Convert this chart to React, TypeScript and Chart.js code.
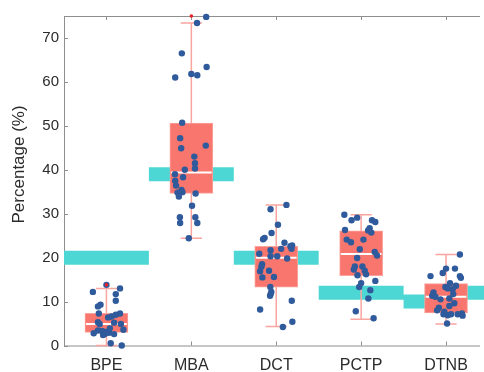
import React, { useEffect, useRef } from 'react';
import { Chart, registerables } from 'chart.js';

Chart.register(...registerables);

const categories = ['BPE', 'MBA', 'DCT', 'PCTP', 'DTNB'];
const yTickValues = [0, 10, 20, 30, 40, 50, 60, 70];
const yAxisTitle = 'Percentage (%)';

// box statistics
const whiskerLow = [0, 24.4, 4.3, 6.0, 4.9];
const q1 = [3.0, 34.6, 13.3, 15.9, 7.4];
const median = [4.9, 39.4, 20.0, 20.8, 11.1];
const q3 = [7.3, 50.6, 22.6, 26.1, 14.1];
const whiskerHigh = [13.0, 73.4, 32.0, 29.75, 20.7];

// outlier markers
const outlierCategory = [0, 1];
const outlierValue = [13.8, 75];

// reference (cyan) bands
const refStart = [-0.5, 0.5, 1.5, 2.5, 3.5, 4.0];
const refEnd = [0.5, 1.5, 2.5, 3.5, 4.0, 4.5];
const refValue = [20, 39, 20, 12, 10, 12];

// individual observations and their horizontal jitter
const bpeValues = [12.2, 13.0, 13.8, 11.7, 10.2, 9.3, 8.9, 7.3, 7.3, 7.0, 6.6, 6.4, 5.3, 4.9, 5.2, 4.9, 3.6, 3.4, 3.3, 3.1, 2.9, 2.8, 2.4, 2.6, 3.9, 0.5, 0.0, 2.6];
const bpeJitter = [-0.16, 0.16, 0.0, 0.11, 0.11, -0.07, -0.1, -0.09, 0.16, 0.11, 0.06, 0.02, -0.1, -0.08, 0.09, 0.17, 0.2, -0.1, -0.05, -0.01, 0.03, -0.15, -0.04, 0.09, 0.04, 0.05, 0.18, -0.02];

const mbaValues = [74.8, 73.4, 66.5, 63.4, 61.8, 61.5, 61.0, 50.7, 47.2, 44.9, 45.5, 43.0, 41.5, 40.3, 40.0, 39.0, 38.3, 37.5, 36.4, 35.4, 34.8, 34.9, 34.6, 33.9, 31.8, 29.2, 29.2, 27.9, 27.9, 24.4];
const mbaJitter = [0.175, 0.067, -0.112, 0.18, 0.0, 0.07, -0.19, -0.108, -0.132, -0.12, 0.17, 0.035, 0.043, 0.043, -0.077, -0.193, -0.097, -0.19, -0.18, -0.116, -0.163, -0.105, 0.05, -0.147, 0.008, -0.135, 0.047, -0.132, 0.07, -0.03];

const dctValues = [32.0, 31.0, 27.5, 25.6, 24.5, 24.2, 23.4, 22.6, 22.8, 22.0, 22.0, 21.7, 20.9, 20.3, 20.3, 19.8, 18.5, 17.9, 16.9, 17.0, 15.5, 15.6, 13.3, 12.2, 11.7, 11.3, 10.2, 8.2, 4.2, 5.4];
const dctJitter = [0.12, -0.067, 0.02, -0.055, -0.137, -0.155, 0.097, 0.167, 0.187, 0.058, 0.18, -0.067, -0.2, -0.067, 0.012, 0.128, -0.167, -0.175, -0.19, -0.085, -0.163, -0.027, -0.07, -0.058, -0.066, -0.073, 0.183, -0.19, 0.078, 0.19];

const pctpValues = [29.75, 28.5, 29.1, 28.5, 28.1, 26.7, 26.2, 25.7, 26.3, 24.1, 23.5, 24.1, 21.9, 21.3, 20.5, 19.9, 18.0, 18.0, 17.3, 17.0, 16.2, 16.0, 14.2, 14.7, 13.3, 12.6, 10.7, 7.8, 6.2];
const pctpJitter = [-0.198, -0.113, -0.047, 0.128, 0.167, 0.1, 0.082, 0.12, -0.19, -0.17, -0.12, 0.027, -0.016, 0.16, 0.187, -0.047, 0.015, -0.074, -0.086, 0.042, 0.058, -0.043, 0.0, 0.167, -0.023, 0.108, 0.085, -0.063, 0.147];

const dtnbValues = [20.7, 17.5, 17.5, 16.5, 15.8, 15.8, 15.4, 14.2, 13.6, 13.3, 13.0, 12.8, 12.1, 11.7, 11.3, 11.1, 10.7, 10.5, 9.6, 9.0, 8.6, 8.0, 7.7, 7.1, 6.9, 7.1, 7.1, 7.3, 6.8, 5.0];
const dtnbJitter = [0.163, 0.0, 0.105, -0.039, -0.183, 0.163, 0.175, 0.047, 0.117, -0.008, 0.02, 0.078, -0.148, 0.085, -0.163, -0.125, 0.039, -0.066, 0.097, 0.039, -0.085, -0.105, -0.02, -0.03, 0.02, 0.058, 0.136, 0.187, 0.195, 0.012];

const groupValues = [bpeValues, mbaValues, dctValues, pctpValues, dtnbValues];
const groupJitter = [bpeJitter, mbaJitter, dctJitter, pctpJitter, dtnbJitter];

const FONT = "'Liberation Sans', Arial, Helvetica, sans-serif";
const TEXT_COLOR = '#2b2b2b';

const axesPlugin = {
  id: 'axesFrame',
  beforeDatasetsDraw(chart: any) {
    const { ctx, chartArea, scales } = chart;
    const { left, right, top, bottom } = chartArea;
    const x = scales.x;
    const y = scales.y;
    ctx.save();
    ctx.strokeStyle = '#8e8e8e';
    ctx.lineWidth = 1;
    ctx.beginPath();
    ctx.moveTo(left + 0.5, top);
    ctx.lineTo(left + 0.5, bottom + 1);
    ctx.moveTo(left, bottom + 0.5);
    ctx.lineTo(right, bottom + 0.5);
    ctx.moveTo(left, top + 0.5);
    ctx.lineTo(right, top + 0.5);
    yTickValues.forEach((v) => {
      const py = Math.round(y.getPixelForValue(v)) + 0.5;
      ctx.moveTo(left, py);
      ctx.lineTo(left + 4, py);
    });
    categories.forEach((_, i) => {
      const px = Math.round(x.getPixelForValue(i)) + 0.5;
      ctx.moveTo(px, bottom);
      ctx.lineTo(px, bottom - 4);
      ctx.moveTo(px, top);
      ctx.lineTo(px, top + 4);
    });
    ctx.stroke();

    // y axis title (centred on the figure, as in the original)
    ctx.translate(19.5, chart.height * 0.442);
    ctx.rotate(-Math.PI / 2);
    ctx.fillStyle = TEXT_COLOR;
    ctx.font = `17px ${FONT}`;
    ctx.textAlign = 'center';
    ctx.textBaseline = 'middle';
    ctx.fillText(yAxisTitle, 0, 0);
    ctx.restore();
  },
};

export default function App() {
  const canvasRef = useRef<HTMLCanvasElement | null>(null);

  useEffect(() => {
    const canvas = canvasRef.current;
    if (!canvas) return;

    const refData: any[] = [];
    refValue.forEach((v, i) => {
      refData.push({ x: refStart[i], y: v }, { x: refEnd[i], y: v }, { x: refEnd[i], y: null });
    });

    const whiskerData: any[] = [];
    categories.forEach((_, i) => {
      whiskerData.push(
        { x: i - 0.125, y: whiskerHigh[i] }, { x: i + 0.125, y: whiskerHigh[i] }, { x: i, y: null },
        { x: i, y: whiskerHigh[i] }, { x: i, y: whiskerLow[i] }, { x: i, y: null },
        { x: i - 0.125, y: whiskerLow[i] }, { x: i + 0.125, y: whiskerLow[i] }, { x: i, y: null },
      );
    });

    const boxData = categories.map((_, i) => ({ x: i, y: [q1[i], q3[i]] }));

    const medianData: any[] = [];
    categories.forEach((_, i) => {
      medianData.push({ x: i - 0.24, y: median[i] }, { x: i + 0.24, y: median[i] }, { x: i, y: null });
    });

    const pointData: any[] = [];
    groupValues.forEach((vals, i) => {
      vals.forEach((v, j) => pointData.push({ x: i + groupJitter[i][j], y: v }));
    });

    const outlierData = outlierCategory.map((c, k) => ({ x: c, y: outlierValue[k] }));

    const chart = new Chart(canvas, {
      type: 'scatter',
      data: {
        datasets: [
          {
            type: 'line',
            data: refData,
            borderColor: '#4dd7d4',
            borderWidth: 14,
            borderCapStyle: 'butt',
            pointRadius: 0,
            spanGaps: false,
            clip: false,
            order: 6,
          } as any,
          {
            type: 'line',
            data: whiskerData,
            borderColor: '#f9a5a0',
            borderWidth: 1.5,
            pointRadius: 0,
            spanGaps: false,
            clip: false,
            order: 5,
          } as any,
          {
            type: 'bar',
            data: boxData,
            backgroundColor: '#f8766d',
            borderColor: '#fba39d',
            borderWidth: 1,
            borderSkipped: false,
            barThickness: 43,
            clip: false,
            order: 4,
          } as any,
          {
            type: 'line',
            data: medianData,
            borderColor: '#ffffff',
            borderWidth: 2,
            pointRadius: 0,
            spanGaps: false,
            clip: false,
            order: 3,
          } as any,
          {
            type: 'scatter',
            data: pointData,
            backgroundColor: '#2f5a9b',
            borderWidth: 0,
            pointRadius: 3.2,
            clip: false,
            order: 2,
          } as any,
          {
            type: 'scatter',
            data: outlierData,
            backgroundColor: '#e8202a',
            borderWidth: 0,
            pointRadius: 1.8,
            clip: false,
            order: 1,
          } as any,
        ],
      },
      options: {
        animation: false,
        responsive: false,
        devicePixelRatio: 1,
        layout: { padding: { top: 16, right: 0, left: 0, bottom: 0 } },
        plugins: {
          legend: { display: false },
          tooltip: { enabled: false },
        },
        scales: {
          x: {
            type: 'linear',
            min: -0.5,
            max: 4.4,
            offset: false,
            grid: { display: false, drawTicks: false },
            border: { display: false },
            afterBuildTicks: (scale: any) => {
              scale.ticks = categories.map((_, i) => ({ value: i }));
            },
            afterFit: (scale: any) => {
              scale.height = 26.5;
              scale.paddingLeft = 0;
              scale.paddingRight = 0;
            },
            ticks: {
              padding: 10,
              color: TEXT_COLOR,
              font: { family: FONT, size: 16 },
              callback: (v: any) => categories[Math.round(Number(v))] ?? '',
              maxRotation: 0,
              autoSkip: false,
            },
          },
          y: {
            type: 'linear',
            min: 0,
            max: 75,
            grid: { display: false, drawTicks: false },
            border: { display: false },
            afterBuildTicks: (scale: any) => {
              scale.ticks = yTickValues.map((v) => ({ value: v }));
            },
            afterFit: (scale: any) => {
              scale.width = 64;
            },
            ticks: {
              padding: 5,
              color: TEXT_COLOR,
              font: { family: FONT, size: 15 },
            },
          },
        },
      } as any,
      plugins: [axesPlugin],
    });

    return () => chart.destroy();
  }, []);

  return (
    <div style={{ position: 'absolute', left: 0, top: 0, width: 484, height: 372, background: '#fff' }}>
      <canvas ref={canvasRef} width={484} height={372} style={{ width: 484, height: 372, display: 'block' }} />
    </div>
  );
}
